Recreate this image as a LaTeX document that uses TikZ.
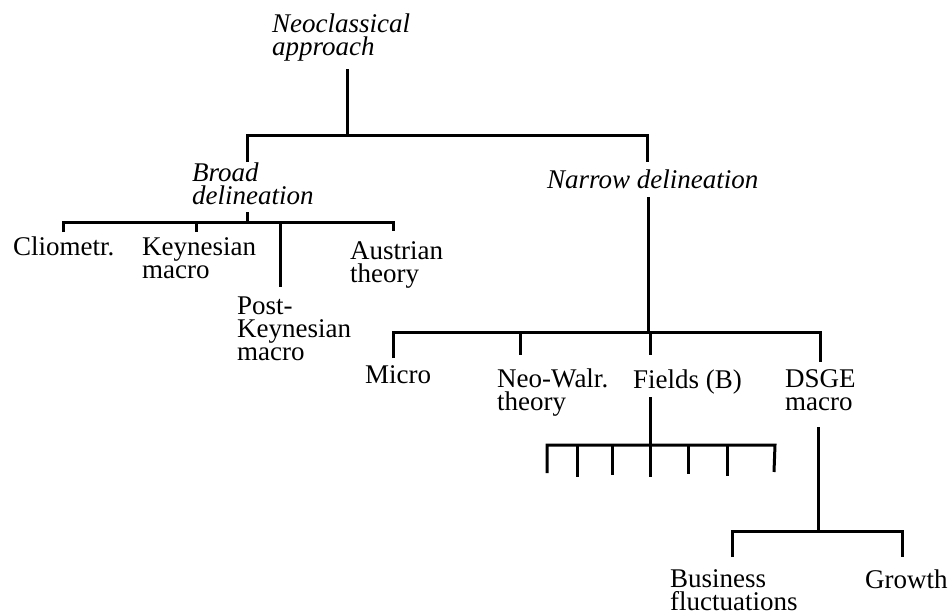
\documentclass[tikz,border=0pt]{standalone}
\usepackage{fontspec}
\setmainfont{Liberation Serif}
\usetikzlibrary{calc}
\begin{document}
\begin{tikzpicture}[x=1pt,y=-1pt,
  lbl/.style={anchor=base west, inner sep=0pt, align=left,
              font=\fontsize{27}{23}\selectfont},
  ital/.style={lbl, font=\fontsize{27}{23}\selectfont\itshape},
  branch/.style={line width=3pt, line join=miter}]
\path[use as bounding box] (0,0) rectangle (951,616);

% labels (placed by the baseline of their last line)
\node[ital] (neo)    at (272,55)  {Neoclassical\\approach};
\node[ital] (broad)  at (192,204) {Broad\\delineation};
\node[ital] (narrow) at (547,188) {Narrow delineation};
\node[lbl]  (clio)   at (13,255)  {Cliometr.};
\node[lbl]  (keyn)   at (142,278) {Keynesian\\macro};
\node[lbl]  (postk)  at (237,360) {Post-\\Keynesian\\macro};
\node[lbl]  (aust)   at (350,282) {Austrian\\theory};
\node[lbl]  (micro)  at (365,383) {Micro};
\node[lbl]  (neow)   at (497,410) {Neo-Walr.\\theory};
\node[lbl]  (fields) at (633,388) {Fields (B)};
\node[lbl]  (dsge)   at (785,410) {DSGE\\macro};
\node[lbl]  (bus)    at (670,610) {Business\\fluctuations};
\node[lbl]  (growth) at (865,588) {Growth};

% junction points
\coordinate (rootT) at (347,69);
\coordinate (rootJ) at (347,135);
\coordinate (rootL) at (247,135);
\coordinate (rootR) at (647,135);
\coordinate (broadIn) at (247,162);
\coordinate (narrowIn) at (647,162);

\coordinate (broadT) at (247,212);
\coordinate (broadJ) at (247,222);
\coordinate (bL) at (63,222);
\coordinate (bR) at (393,222);

\coordinate (narrowT) at (648,197);
\coordinate (narrowJ) at (648,332);
\coordinate (nL) at (393,332);
\coordinate (nR) at (820,332);

\coordinate (fieldsT) at (650,397);
\coordinate (fieldsJ) at (650,445);
\coordinate (fL) at (547,445);
\coordinate (fR) at (775,445);

\coordinate (dsgeT) at (818,427);
\coordinate (dsgeJ) at (818,531);
\coordinate (dL) at (732,531);
\coordinate (dR) at (902,531);

% root split
\draw[branch] (rootT) -- (rootJ);
\draw[branch] (broadIn) -- (rootL) -- (rootR) -- (narrowIn);

% broad delineation
\draw[branch] (broadT) -- (broadJ);
\draw[branch] ($(bL)+(0,10)$) -- (bL) -- (bR) -- ($(bR)+(0,9)$);
\draw[branch] (196,222) -- (196,232);
\draw[branch] (280,222) -- (280,287);

% narrow delineation
\draw[branch] (narrowT) -- (narrowJ);
\draw[branch] ($(nL)+(0,26)$) -- (nL) -- (nR) -- ($(nR)+(0,30)$);
\draw[branch] (520,332) -- (520,355);
\draw[branch] (650,332) -- (650,355);

% fields
\draw[branch] (fieldsT) -- (fieldsJ);
\draw[branch] ($(fL)+(0,28)$) -- (fL) -- (fR) -- ($(fR)+(-1,27)$);
\foreach \x/\b in {577/477, 612/475, 650/477, 688/474, 727/476}
  \draw[branch] (\x,445) -- (\x,\b);

% DSGE
\draw[branch] (dsgeT) -- (dsgeJ);
\draw[branch] ($(dL)+(0,26)$) -- (dL) -- (dR) -- ($(dR)+(0,26)$);
\end{tikzpicture}
\end{document}
